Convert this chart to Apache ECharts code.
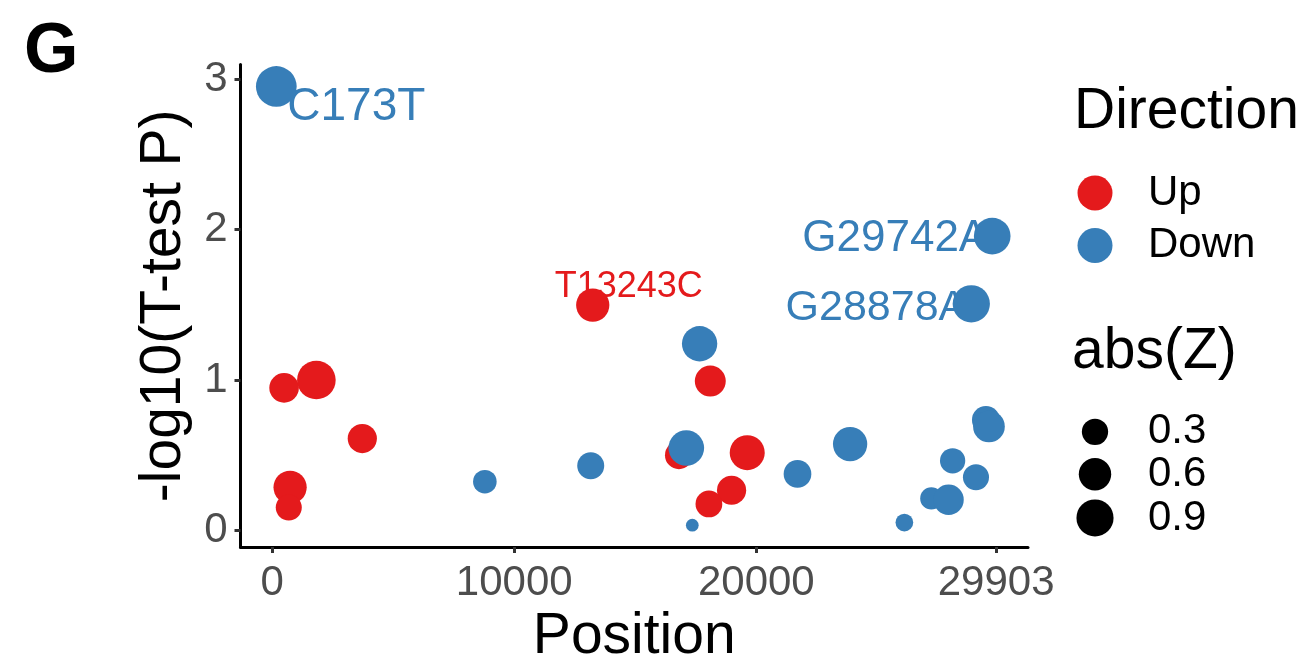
<!DOCTYPE html>
<html>
<head>
<meta charset="utf-8">
<script src="https://cdn.jsdelivr.net/npm/echarts@6/dist/echarts.min.js"></script>
<style>
  html, body { margin: 0; padding: 0; background: #ffffff; }
  #chart { width: 1309px; height: 671px; }
</style>
</head>
<body>
<div id="chart"></div>
<script>
// ---- data ----
const upPosition = [495, 1828, 3725, 743, 688, 13243, 18098, 16803, 19624, 18977, 18041];
const upLogP     = [0.948, 1.00, 0.611, 0.287, 0.152, 1.498, 0.993, 0.50, 0.517, 0.267, 0.176];
const upAbsZ     = [0.45, 1.01, 0.43, 0.65, 0.29, 0.65, 0.52, 0.37, 0.76, 0.43, 0.32];

const downPosition = [173, 8787, 13160, 17657, 17107, 17355, 21700, 23873, 29742, 28878, 29483, 29608, 28107, 29072, 27228, 27941, 26114];
const downLogP     = [2.952, 0.324, 0.43, 1.241, 0.548, 0.035, 0.376, 0.574, 1.957, 1.507, 0.735, 0.691, 0.463, 0.354, 0.213, 0.204, 0.052];
const downAbsZ     = [1.17, 0.20, 0.33, 0.78, 0.80, 0.002, 0.36, 0.715, 0.87, 0.91, 0.37, 0.56, 0.26, 0.29, 0.16, 0.485, 0.053];

const labelText      = ['C173T', 'T13243C', 'G29742A', 'G28878A'];
const labelDirection = ['Down', 'Up', 'Down', 'Down'];
const labelPosition  = [173, 13243, 29742, 28878];

const xTicks = [0, 10000, 20000, 29903];
const yTicks = [0, 1, 2, 3];
const sizeBreaks = [0.3, 0.6, 0.9];
const directions = ['Up', 'Down'];

// ---- styles ----
const COLORS = { Up: '#E41A1C', Down: '#377EB8' };
const FONT = '"Liberation Sans", Arial, Helvetica, sans-serif';
const labelStyle = {
  'C173T':   { fontSize: 46, align: 'left',   offset: [11, 21] },
  'T13243C': { fontSize: 36, align: 'center', offset: [36, -18] },
  'G29742A': { fontSize: 44, align: 'right',  offset: [-4, 3] },
  'G28878A': { fontSize: 43, align: 'right',  offset: [-4, 4] }
};
const sz = z => 11.5 + 27 * Math.sqrt(z);

// axis ranges: data range expanded by 5% on each side
function expanded(arr) {
  const mn = Math.min(...arr), mx = Math.max(...arr), r = mx - mn;
  return [mn - 0.05 * r, mx + 0.05 * r];
}
const xr = expanded(upPosition.concat(downPosition));
const yr = expanded(upLogP.concat(downLogP));

const upData = upPosition.map((x, i) => [x, upLogP[i], upAbsZ[i]]);
const downData = downPosition.map((x, i) => [x, downLogP[i], downAbsZ[i]]);

const labelData = labelText.map((t, i) => {
  const isUp = labelDirection[i] === 'Up';
  const pos = isUp ? upPosition : downPosition;
  const lp = isUp ? upLogP : downLogP;
  const j = pos.indexOf(labelPosition[i]);
  const st = labelStyle[t];
  return {
    value: [labelPosition[i], lp[j]],
    label: {
      show: true, formatter: t, position: 'inside',
      fontSize: st.fontSize, align: st.align, verticalAlign: 'middle',
      offset: st.offset, color: COLORS[labelDirection[i]], fontFamily: FONT,
      opacity: 1, textBorderWidth: 0
    }
  };
});

// size legend geometry
const sizeCenters = [424, 469.5, 515.5];
const sizeLegends = sizeBreaks.map((b, i) => {
  const d = sz(b);
  return {
    data: [String(b)], orient: 'vertical', icon: 'circle',
    left: 1095 - d / 2, top: sizeCenters[i] - d / 2,
    itemWidth: d, itemHeight: d, padding: 0, selectedMode: false,
    itemStyle: { color: '#000', opacity: 1 },
    textStyle: { fontSize: 42, color: '#000', fontFamily: FONT, lineHeight: d,
                 padding: [3, 0, 0, 1148 - (1095 + d / 2) - 5] }
  };
});

const chart = echarts.init(document.getElementById('chart'), null, { renderer: 'canvas' });
chart.setOption({
  animation: false,
  backgroundColor: '#ffffff',
  textStyle: { fontFamily: FONT },
  grid: { left: 240.5, right: 281, top: 64.5, bottom: 114.5, containLabel: false },
  xAxis: {
    type: 'value', min: xr[0], max: xr[1],
    name: 'Position', nameLocation: 'middle', nameGap: 57,
    nameTextStyle: { fontSize: 57, color: '#000', fontFamily: FONT },
    axisLine: { show: true, onZero: false, lineStyle: { color: '#000', width: 3 } },
    axisTick: { show: true, customValues: xTicks, length: 6, lineStyle: { color: '#333', width: 3 } },
    axisLabel: { customValues: xTicks, fontSize: 42, color: '#4D4D4D', margin: 15, fontFamily: FONT,
                 formatter: v => String(v) },
    splitLine: { show: false }
  },
  yAxis: {
    type: 'value', min: yr[0], max: yr[1],
    name: '-log10(T-test P)', nameLocation: 'middle', nameGap: 46, nameRotate: 90,
    nameTextStyle: { fontSize: 57, color: '#000', fontFamily: FONT },
    axisLine: { show: true, onZero: false, lineStyle: { color: '#000', width: 3 } },
    axisTick: { show: true, customValues: yTicks, length: 6, lineStyle: { color: '#333', width: 3 } },
    axisLabel: { customValues: yTicks, fontSize: 42, color: '#4D4D4D', margin: 13, fontFamily: FONT,
                 padding: [8, 0, 0, 0], formatter: v => String(v) },
    splitLine: { show: false }
  },
  legend: [
    {
      data: directions, orient: 'vertical', icon: 'circle',
      left: 1077.5, top: 172, itemWidth: 35, itemHeight: 35, itemGap: 10.5, padding: 0,
      selectedMode: false,
      itemStyle: { opacity: 1 },
      textStyle: { fontSize: 42, color: '#000', fontFamily: FONT, lineHeight: 35, padding: [3, 0, 0, 30.5] }
    }
  ].concat(sizeLegends),
  graphic: [
    { type: 'text', left: 24, top: 18, silent: true,
      style: { text: 'G', font: 'bold 70px ' + FONT, fill: '#000' } },
    { type: 'text', left: 1074, top: 84, silent: true,
      style: { text: 'Direction', font: '57px ' + FONT, fill: '#000' } },
    { type: 'text', left: 1072, top: 324, silent: true,
      style: { text: 'abs(Z)', font: '57px ' + FONT, fill: '#000' } }
  ],
  series: [
    {
      name: 'labels', type: 'scatter', z: 1, silent: true,
      symbolSize: 1, itemStyle: { color: 'rgba(0,0,0,0)', opacity: 1 },
      data: labelData
    },
    {
      name: 'Up', type: 'scatter', z: 3, silent: true,
      symbolSize: v => sz(v[2]),
      itemStyle: { color: COLORS.Up, opacity: 1 },
      data: upData
    },
    {
      name: 'Down', type: 'scatter', z: 4, silent: true,
      symbolSize: v => sz(v[2]),
      itemStyle: { color: COLORS.Down, opacity: 1 },
      data: downData
    }
  ].concat(sizeBreaks.map(b => ({
    name: String(b), type: 'scatter', data: [], itemStyle: { color: '#000', opacity: 1 }
  })))
});
</script>
</body>
</html>
